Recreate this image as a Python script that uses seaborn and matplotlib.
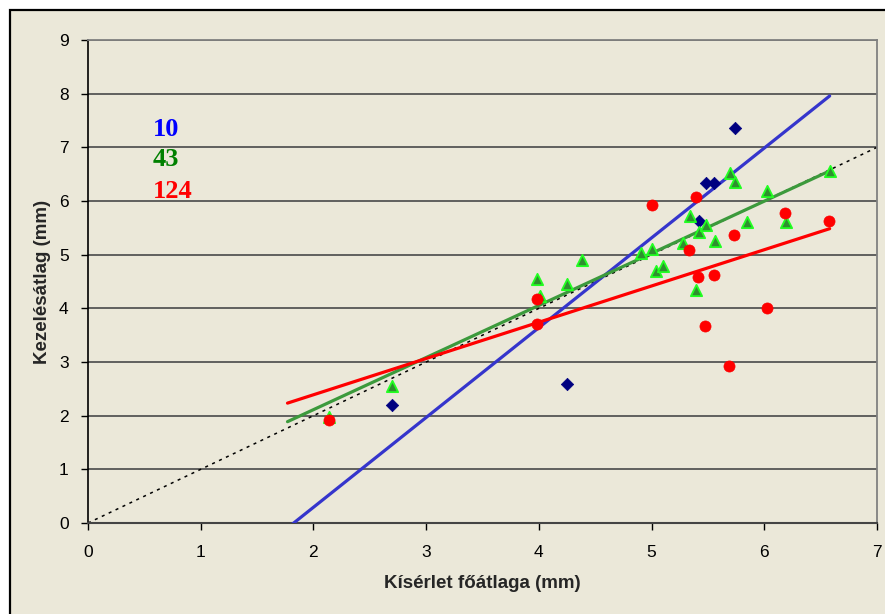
import numpy as np
import pandas as pd
import matplotlib
matplotlib.use("Agg")
import matplotlib.pyplot as plt
from matplotlib.patches import Rectangle
import seaborn as sns

# Measured means per treatment group (mm)
x_10 = [2.70, 4.25, 5.42, 5.48, 5.55, 5.74]
y_10 = [2.20, 2.59, 5.63, 6.33, 6.33, 7.36]

x_43 = [2.14, 2.70, 3.98, 4.01, 4.25, 4.38, 4.91, 5.00, 5.04, 5.10, 5.28,
        5.34, 5.39, 5.42, 5.48, 5.56, 5.70, 5.74, 5.85, 6.02, 6.19, 6.58]
y_43 = [1.98, 2.55, 4.55, 4.23, 4.45, 4.90, 5.04, 5.10, 4.69, 4.78, 5.22,
        5.72, 4.34, 5.43, 5.56, 5.25, 6.52, 6.35, 5.61, 6.19, 5.60, 6.56]

x_124 = [2.14, 3.98, 3.98, 5.00, 5.39, 5.33, 5.41, 5.55, 5.47, 5.69, 5.73,
         6.02, 6.18, 6.57]
y_124 = [1.92, 4.17, 3.71, 5.93, 6.07, 5.09, 4.58, 4.63, 3.68, 2.92, 5.37,
         4.01, 5.77, 5.63]

group_labels = ["10", "43", "124"]
trend_span = [1.77, 6.58]
x_ticks = [0, 1, 2, 3, 4, 5, 6, 7]
y_ticks = [0, 1, 2, 3, 4, 5, 6, 7, 8, 9]

BG = "#EBE8D9"

sns.set_theme(style="white")
plt.rcParams["font.family"] = ["Liberation Sans", "DejaVu Sans"]

fig = plt.figure(figsize=(8.85, 6.14), dpi=100, facecolor="white")
W, H = 885, 614
# chart frame
fig.patches.append(Rectangle((10 / W, -0.05), 1.1, 1 - 10 / H + 0.05,
                             transform=fig.transFigure, facecolor=BG,
                             edgecolor="black", linewidth=1.6, zorder=-10))

ax = fig.add_axes([88 / W, 1 - 523 / H, (877 - 88) / W, (523 - 40) / H])
ax.set_zorder(1)
ax.set_facecolor(BG)

# 1:1 reference line
sns.lineplot(x=[0, 7], y=[0, 7], ax=ax, color="black", lw=1.1,
             linestyle=(0, (2, 3)), zorder=2)

series = [
    (x_10, y_10, "#3535CC", dict(marker="D", color="#000080", s=40, edgecolor="#000080", linewidth=0.5)),
    (x_43, y_43, "#3C9A3C", dict(marker="^", color="#2F8F2F", s=66, edgecolor="#22FF22", linewidth=1.3)),
    (x_124, y_124, "#FF0000", dict(marker="o", color="#FF0000", s=64, edgecolor="#FF0000", linewidth=0.5)),
]

# least-squares trend lines
for xs, ys, lc, _ in series:
    k, b = np.polyfit(xs, ys, 1)
    tx = np.array(trend_span)
    sns.lineplot(x=tx, y=k * tx + b, ax=ax, color=lc, lw=2.3, zorder=3)

for xs, ys, _, mk in series:
    sns.scatterplot(x=xs, y=ys, ax=ax, zorder=4, **mk)

ax.set_xlim(0, 7)
ax.set_ylim(0, 9)
ax.set_xticks(x_ticks)
ax.set_yticks(y_ticks)
ax.set_xticklabels([str(t) for t in x_ticks], fontsize=12.5)
ax.set_yticklabels([str(t) for t in y_ticks], fontsize=12.5)
ax.yaxis.grid(True, color="#555555", lw=1.3)
ax.xaxis.grid(False)
ax.set_axisbelow(True)
ax.tick_params(axis="both", direction="out", length=5, width=1, color="black",
               labelcolor="black", bottom=True, left=True)
ax.tick_params(axis="x", pad=11)
ax.tick_params(axis="y", pad=9)
for side in ["top", "right"]:
    ax.spines[side].set_color("#808080")
    ax.spines[side].set_linewidth(1.3)
ax.spines["left"].set_color("black")
ax.spines["left"].set_linewidth(1.2)
ax.spines["bottom"].set_color("#444444")
ax.spines["bottom"].set_linewidth(1.5)

ax.set_xlabel("Kísérlet főátlaga (mm)", fontsize=13.5, fontweight="bold", va="center")
ax.set_ylabel("Kezelésátlag (mm)", fontsize=13.5, fontweight="bold", va="center")
ax.xaxis.set_label_coords(0.5, -(583 - 523) / 483)
ax.yaxis.set_label_coords((43 - 88) / 789, 0.5)

label_colors = ["#0000FF", "#008000", "#FF0000"]
label_y = [130, 160, 191]
for txt, c, py in zip(group_labels, label_colors, label_y):
    fig.text(153 / W, 1 - py / H, txt, color=c, fontsize=19, fontweight="bold",
             family=["Liberation Serif", "DejaVu Serif"], ha="left", va="center")

fig.savefig("out.png", dpi=100, facecolor=fig.get_facecolor())
